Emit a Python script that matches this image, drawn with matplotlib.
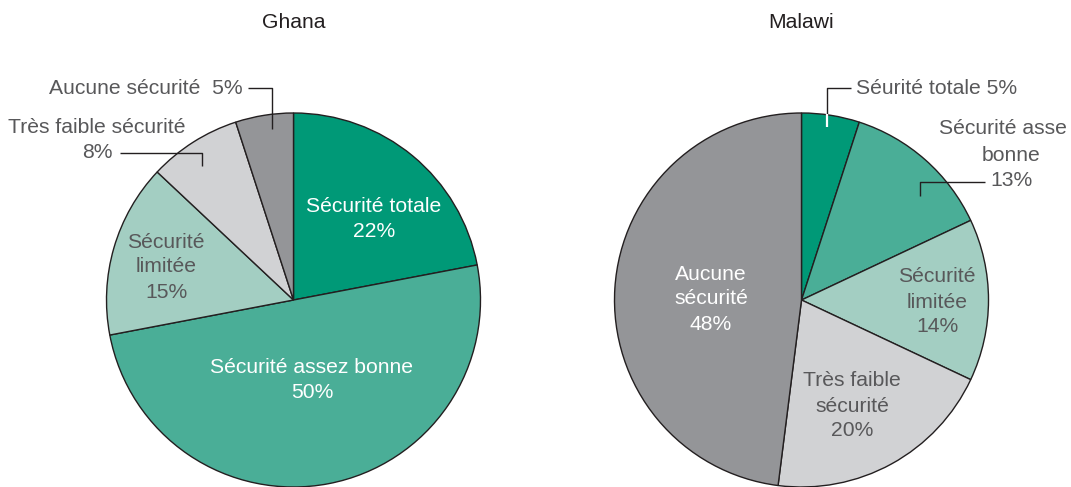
import matplotlib
matplotlib.use('Agg')
import matplotlib.pyplot as plt

plt.rcParams['font.family'] = ['Liberation Sans', 'DejaVu Sans']

# données
categories = ['Sécurité totale', 'Sécurité assez bonne', 'Sécurité limitée',
              'Très faible sécurité', 'Aucune sécurité']
ghana_values = [22, 50, 15, 8, 5]
malawi_values = [5, 13, 14, 20, 48]
slice_colors = ['#009977', '#4aae97', '#a3cec2', '#d1d2d4', '#949598']

EDGE = '#231f20'
TXT = '#58585a'
W, H = 1071, 487
R_PX = 187
FS = 15.2


def make_pie_ax(fig, cx, cy_top):
    """axes carré centré sur (cx, cy) en pixels (y depuis le haut)"""
    cy = H - cy_top
    ax = fig.add_axes([(cx - R_PX) / W, (cy - R_PX) / H, 2 * R_PX / W, 2 * R_PX / H])
    return ax


def px(ax_c, p):
    """convertit un point pixel (x, y depuis le haut) en coordonnées du camembert"""
    cx, cy = ax_c
    return (p[0] - cx) / R_PX, (cy - p[1]) / R_PX


def label(ax, c, p, text, color=TXT, fs=FS):
    x, y = px(c, p)
    ax.text(x, y, text, ha='center', va='center', fontsize=fs, color=color,
            linespacing=1.4)


def leader(ax, c, pts, color=EDGE, lw=1.0):
    xy = [px(c, p) for p in pts]
    ax.plot([q[0] for q in xy], [q[1] for q in xy], color=color, lw=lw,
            solid_capstyle='butt', clip_on=False)


def draw_pie(ax, values):
    ax.pie(values, colors=slice_colors, startangle=90, counterclock=False,
           radius=1, wedgeprops=dict(edgecolor=EDGE, linewidth=1.0))
    ax.set_xlim(-1, 1)
    ax.set_ylim(-1, 1)
    ax.set_aspect('auto')
    ax.axis('off')


fig = plt.figure(figsize=(W / 100, H / 100), dpi=100)

# Ghana
cg = (293.5, 300)
ax1 = make_pie_ax(fig, *cg)
draw_pie(ax1, ghana_values)
fig.text(294 / W, 1 - 23 / H, 'Ghana', ha='center', va='center', fontsize=FS, color='#231f20')

label(ax1, cg, (374, 219), f'Sécurité totale\n{ghana_values[0]}%', color='white')
label(ax1, cg, (312, 380), f'Sécurité assez bonne\n{ghana_values[1]}%', color='white')
label(ax1, cg, (166, 267), f'Sécurité\nlimitée\n{ghana_values[2]}%')
label(ax1, cg, (97, 140), f'Très faible sécurité\n{ghana_values[3]}%')
label(ax1, cg, (146, 88), f'Aucune sécurité  {ghana_values[4]}%')
leader(ax1, cg, [(120, 153), (202, 153), (202, 166)])
leader(ax1, cg, [(248, 88), (272, 88), (272, 129)])

# Malawi
cm = (801.5, 300)
ax2 = make_pie_ax(fig, *cm)
draw_pie(ax2, malawi_values)
fig.text(801 / W, 1 - 23 / H, 'Malawi', ha='center', va='center', fontsize=FS, color='#231f20')

label(ax2, cm, (937, 88), f'Séurité totale {malawi_values[0]}%')
label(ax2, cm, (1003, 129), 'Sécurité asse')
label(ax2, cm, (1011, 168), f'bonne\n{malawi_values[1]}%')
label(ax2, cm, (937, 302), f'Sécurité\nlimitée\n{malawi_values[2]}%')
label(ax2, cm, (852, 406), f'Très faible\nsécurité\n{malawi_values[3]}%')
label(ax2, cm, (711, 299), f'Aucune\nsécurité\n{malawi_values[4]}%', color='white')
leader(ax2, cm, [(851, 88), (827, 88), (827, 114)])
leader(ax2, cm, [(827, 114), (827, 127)], color='white', lw=1.6)
leader(ax2, cm, [(985, 182), (920, 182), (920, 196)])

plt.savefig('out.png', dpi=100, facecolor='white')
plt.close()
